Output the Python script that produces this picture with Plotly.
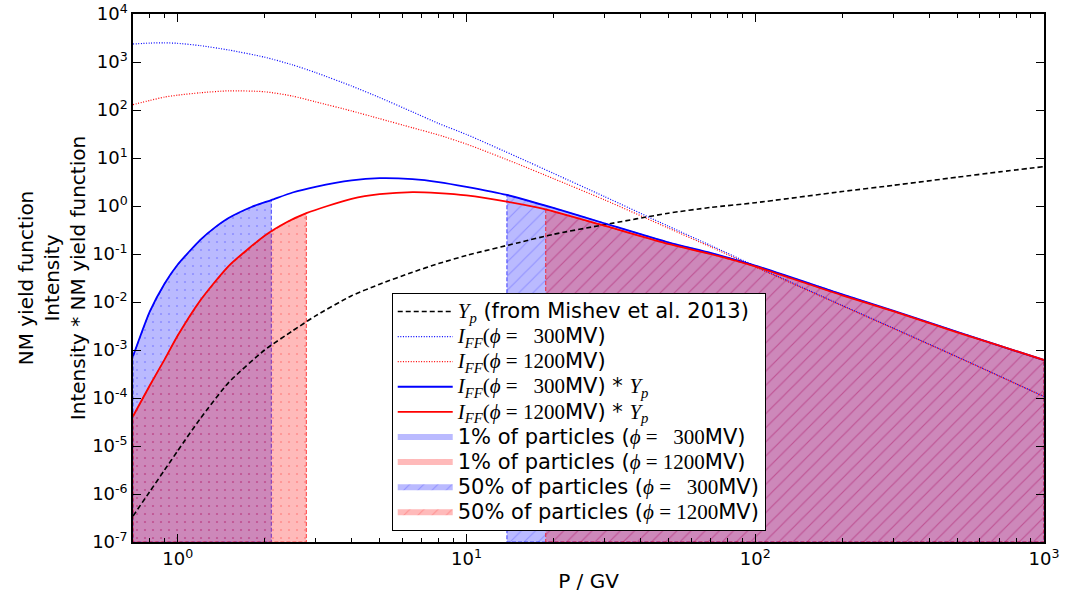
import math
import plotly.graph_objects as go

# ---------------- data ----------------
P = [0.7, 0.8, 0.9, 1.0, 1.2, 1.5, 2.0, 2.5, 3.0, 4.0, 5.0, 6.5, 8.0, 10, 15, 20, 30,
     50, 70, 100, 200, 300, 500, 700, 1000]
Y_P = [3.47e-7, 1.12e-6, 3.16e-6, 7.94e-6, 3.80e-5, 2.09e-4, 1.00e-3, 2.51e-3, 5.13e-3,
       0.0135, 0.0234, 0.0417, 0.0631, 0.0933, 0.170, 0.257, 0.407, 0.708, 0.933, 1.17,
       2.00, 2.69, 3.98, 5.13, 6.61]
I_300 = [2370, 2480, 2510, 2450, 2190, 1780, 1260, 871, 603, 316, 182, 91.2, 52.5, 30.9,
         10.5, 4.79, 1.58, 0.380, 0.151, 0.0562, 0.00851, 0.00288, 7.24e-4, 2.88e-4,
         1.07e-4]
I_1200 = [129, 158, 186, 204, 229, 251, 240, 195, 148, 95.5, 66.1, 42.7, 30.2, 19.5,
          7.59, 3.72, 1.35, 0.347, 0.141, 0.0537, 0.00832, 0.00282, 7.16e-4, 2.85e-4,
          1.07e-4]

# I_FF * Y_p for phi = 300 MV
P_300 = [0.7, 0.8, 0.9, 1.0, 1.2, 1.35, 1.5, 1.8, 2.11, 2.5, 3.0, 4.0, 5.0, 6.5, 8.0, 10,
         13.8, 20, 30, 50, 70, 100, 200, 300, 500, 700, 1000]
IY_300 = [7.41e-4, 6.31e-3, 0.0240, 0.0603, 0.200, 0.363, 0.562, 0.955, 1.33, 1.91, 2.51,
          3.43, 3.80, 3.63, 3.16, 2.51, 1.70, 0.912, 0.437, 0.174, 0.105, 0.0575, 0.0145,
          0.00661, 0.00240, 0.00123, 6.17e-4]
# I_FF * Y_p for phi = 1200 MV
P_1200 = [0.7, 0.8, 0.9, 1.0, 1.2, 1.5, 2.0, 2.4, 2.79, 3.3, 4.0, 5.0, 6.5, 8.0, 10, 13.8,
          18.8, 30, 50, 70, 100, 200, 300, 500, 700, 1000]
IY_1200 = [4.17e-5, 1.82e-4, 6.31e-4, 2.00e-3, 0.0110, 0.0562, 0.240, 0.468, 0.708, 1.00,
           1.41, 1.76, 1.95, 1.86, 1.66, 1.23, 0.851, 0.389, 0.162, 0.100, 0.0550, 0.0138,
           0.00646, 0.00234, 0.00123, 6.17e-4]

# rigidity limits of the shaded regions
P1_300, P1_1200 = 2.11, 2.79
P50_300, P50_1200 = 13.8, 18.8

X_RANGE = (0.7, 1000)
Y_MIN, Y_MAX = 1e-7, 1e4

X_TICKS = [1, 10, 100, 1000]
X_TICKTEXT = ["10<sup>0</sup>", "10<sup>1</sup>", "10<sup>2</sup>", "10<sup>3</sup>"]
Y_TICKS = [1e-7, 1e-6, 1e-5, 1e-4, 1e-3, 1e-2, 1e-1, 1, 10, 100, 1000, 1e4]
Y_TICKTEXT = ["10<sup>-7</sup>", "10<sup>-6</sup>", "10<sup>-5</sup>", "10<sup>-4</sup>",
              "10<sup>-3</sup>", "10<sup>-2</sup>", "10<sup>-1</sup>", "10<sup>0</sup>",
              "10<sup>1</sup>", "10<sup>2</sup>", "10<sup>3</sup>", "10<sup>4</sup>"]

# ---------------- helpers ----------------
BLUE = "#0000ff"
RED = "#ff0000"
SER = '<span style="font-family:Liberation Serif">'
BIG = '<span style="font-size:21px">'
SP = "\u2005"     # space around "="
FIG = "\u2007"    # digit-wide padding


def region(xs, ys, lo, hi, base):
    px = [x for x in xs if lo <= x <= hi]
    py = [y for x, y in zip(xs, ys) if lo <= x <= hi]
    return px + [hi, lo, lo], py + [base, base, py[0]]


def lab(s):
    return BIG + s + "</span>"


iff = "<i>I</i><sub><i>FF</i></sub>"
yp = SER + "<i>Y</i><sub><i>p</i></sub></span>"
eq300 = "<i>ϕ</i>" + SP + "=" + SP + FIG + "300"
eq1200 = "<i>ϕ</i>" + SP + "=" + SP + "1200"
phi300 = SER + "(" + eq300 + "</span>MV)"
phi1200 = SER + "(" + eq1200 + "</span>MV)"
phi300b = "(" + SER + eq300 + "</span>MV)"
phi1200b = "(" + SER + eq1200 + "</span>MV)"

fig = go.Figure()

fills = [
    (0.7, P1_300, P_300, IY_300, "0,0,255", ".", "1% of particles " + phi300b, 6),
    (0.7, P1_1200, P_1200, IY_1200, "255,0,0", ".", "1% of particles " + phi1200b, 7),
    (P50_300, 1000, P_300, IY_300, "0,0,255", "/", "50% of particles " + phi300b, 8),
    (P50_1200, 1000, P_1200, IY_1200, "255,0,0", "/", "50% of particles " + phi1200b, 9),
]
for lo, hi, xs, ys, rgb, shape, name, rank in fills:
    fx, fy = region(xs, ys, lo, hi, Y_MIN)
    fig.add_trace(go.Scatter(
        x=fx, y=fy, mode="none", fill="toself",
        fillcolor=f"rgba({rgb},0.27)",
        fillpattern=dict(shape=shape, bgcolor=f"rgba({rgb},0.27)",
                         fgcolor=f"rgba({rgb},0.45)", size=8 if shape == "." else 10,
                         solidity=0.06 if shape == "." else 0.1),
        name=lab(name), legendrank=rank, hoverinfo="skip"))
    fig.add_trace(go.Scatter(
        x=fx, y=fy, mode="lines", showlegend=False, hoverinfo="skip",
        line=dict(color=f"rgba({rgb},0.6)", width=1.2, dash="4px,2px")))

SM = 0.6
fig.add_trace(go.Scatter(x=P, y=I_300, mode="lines", name=lab(SER + iff + "</span>" + phi300),
                         line=dict(color=BLUE, width=1.2, dash="1px,1.6px", shape="spline",
                                   smoothing=SM), legendrank=2))
fig.add_trace(go.Scatter(x=P, y=I_1200, mode="lines", name=lab(SER + iff + "</span>" + phi1200),
                         line=dict(color=RED, width=1.2, dash="1px,1.6px", shape="spline",
                                   smoothing=SM), legendrank=3))
fig.add_trace(go.Scatter(x=P, y=Y_P, mode="lines", name=lab(yp + " (from Mishev et al. 2013)"),
                         line=dict(color="black", width=1.6, dash="5px,3px", shape="spline",
                                   smoothing=SM), legendrank=1))
fig.add_trace(go.Scatter(x=P_300, y=IY_300, mode="lines",
                         name=lab(SER + iff + "</span>" + phi300 + " * " + yp),
                         line=dict(color=BLUE, width=1.8, shape="spline", smoothing=SM),
                         legendrank=4))
fig.add_trace(go.Scatter(x=P_1200, y=IY_1200, mode="lines",
                         name=lab(SER + iff + "</span>" + phi1200 + " * " + yp),
                         line=dict(color=RED, width=1.8, shape="spline", smoothing=SM),
                         legendrank=5))

minor_x = [m * 10 ** k for k in range(-1, 3) for m in range(2, 10) if 0.7 <= m * 10 ** k <= 1000]

axis_common = dict(type="log", showgrid=False, zeroline=False, showline=True,
                   linecolor="black", linewidth=1.5, mirror="ticks", ticks="inside",
                   tickcolor="black", tickwidth=1, ticklen=8, automargin=False,
                   tickfont=dict(size=18, color="black", family="DejaVu Sans"))

fig.update_layout(
    width=1065, height=601,
    margin=dict(l=133, r=21, t=14, b=59),
    paper_bgcolor="white", plot_bgcolor="white",
    font=dict(family="DejaVu Sans", color="black"),
    showlegend=True,
    legend=dict(x=0.284, y=0.021, xanchor="left", yanchor="bottom",
                bgcolor="white", bordercolor="black", borderwidth=1,
                font=dict(size=17, family="DejaVu Sans", color="black"),
                itemwidth=55, traceorder="normal"),
    xaxis=dict(axis_common, range=[math.log10(X_RANGE[0]), math.log10(X_RANGE[1])],
               tickmode="array", tickvals=X_TICKS, ticktext=X_TICKTEXT,
               minor=dict(tickmode="array", tickvals=minor_x, ticks="inside", ticklen=4,
                          tickcolor="black", tickwidth=1, showgrid=False),
               title=dict(text="P / GV", font=dict(size=20), standoff=6)),
    yaxis=dict(axis_common, range=[math.log10(Y_MIN), math.log10(Y_MAX)],
               tickmode="array", tickvals=Y_TICKS, ticktext=Y_TICKTEXT,
               title=dict(text="NM yield function<br>Intensity<br>Intensity * NM yield function",
                          font=dict(size=20), standoff=1)),
)

fig.write_html("out.html")
